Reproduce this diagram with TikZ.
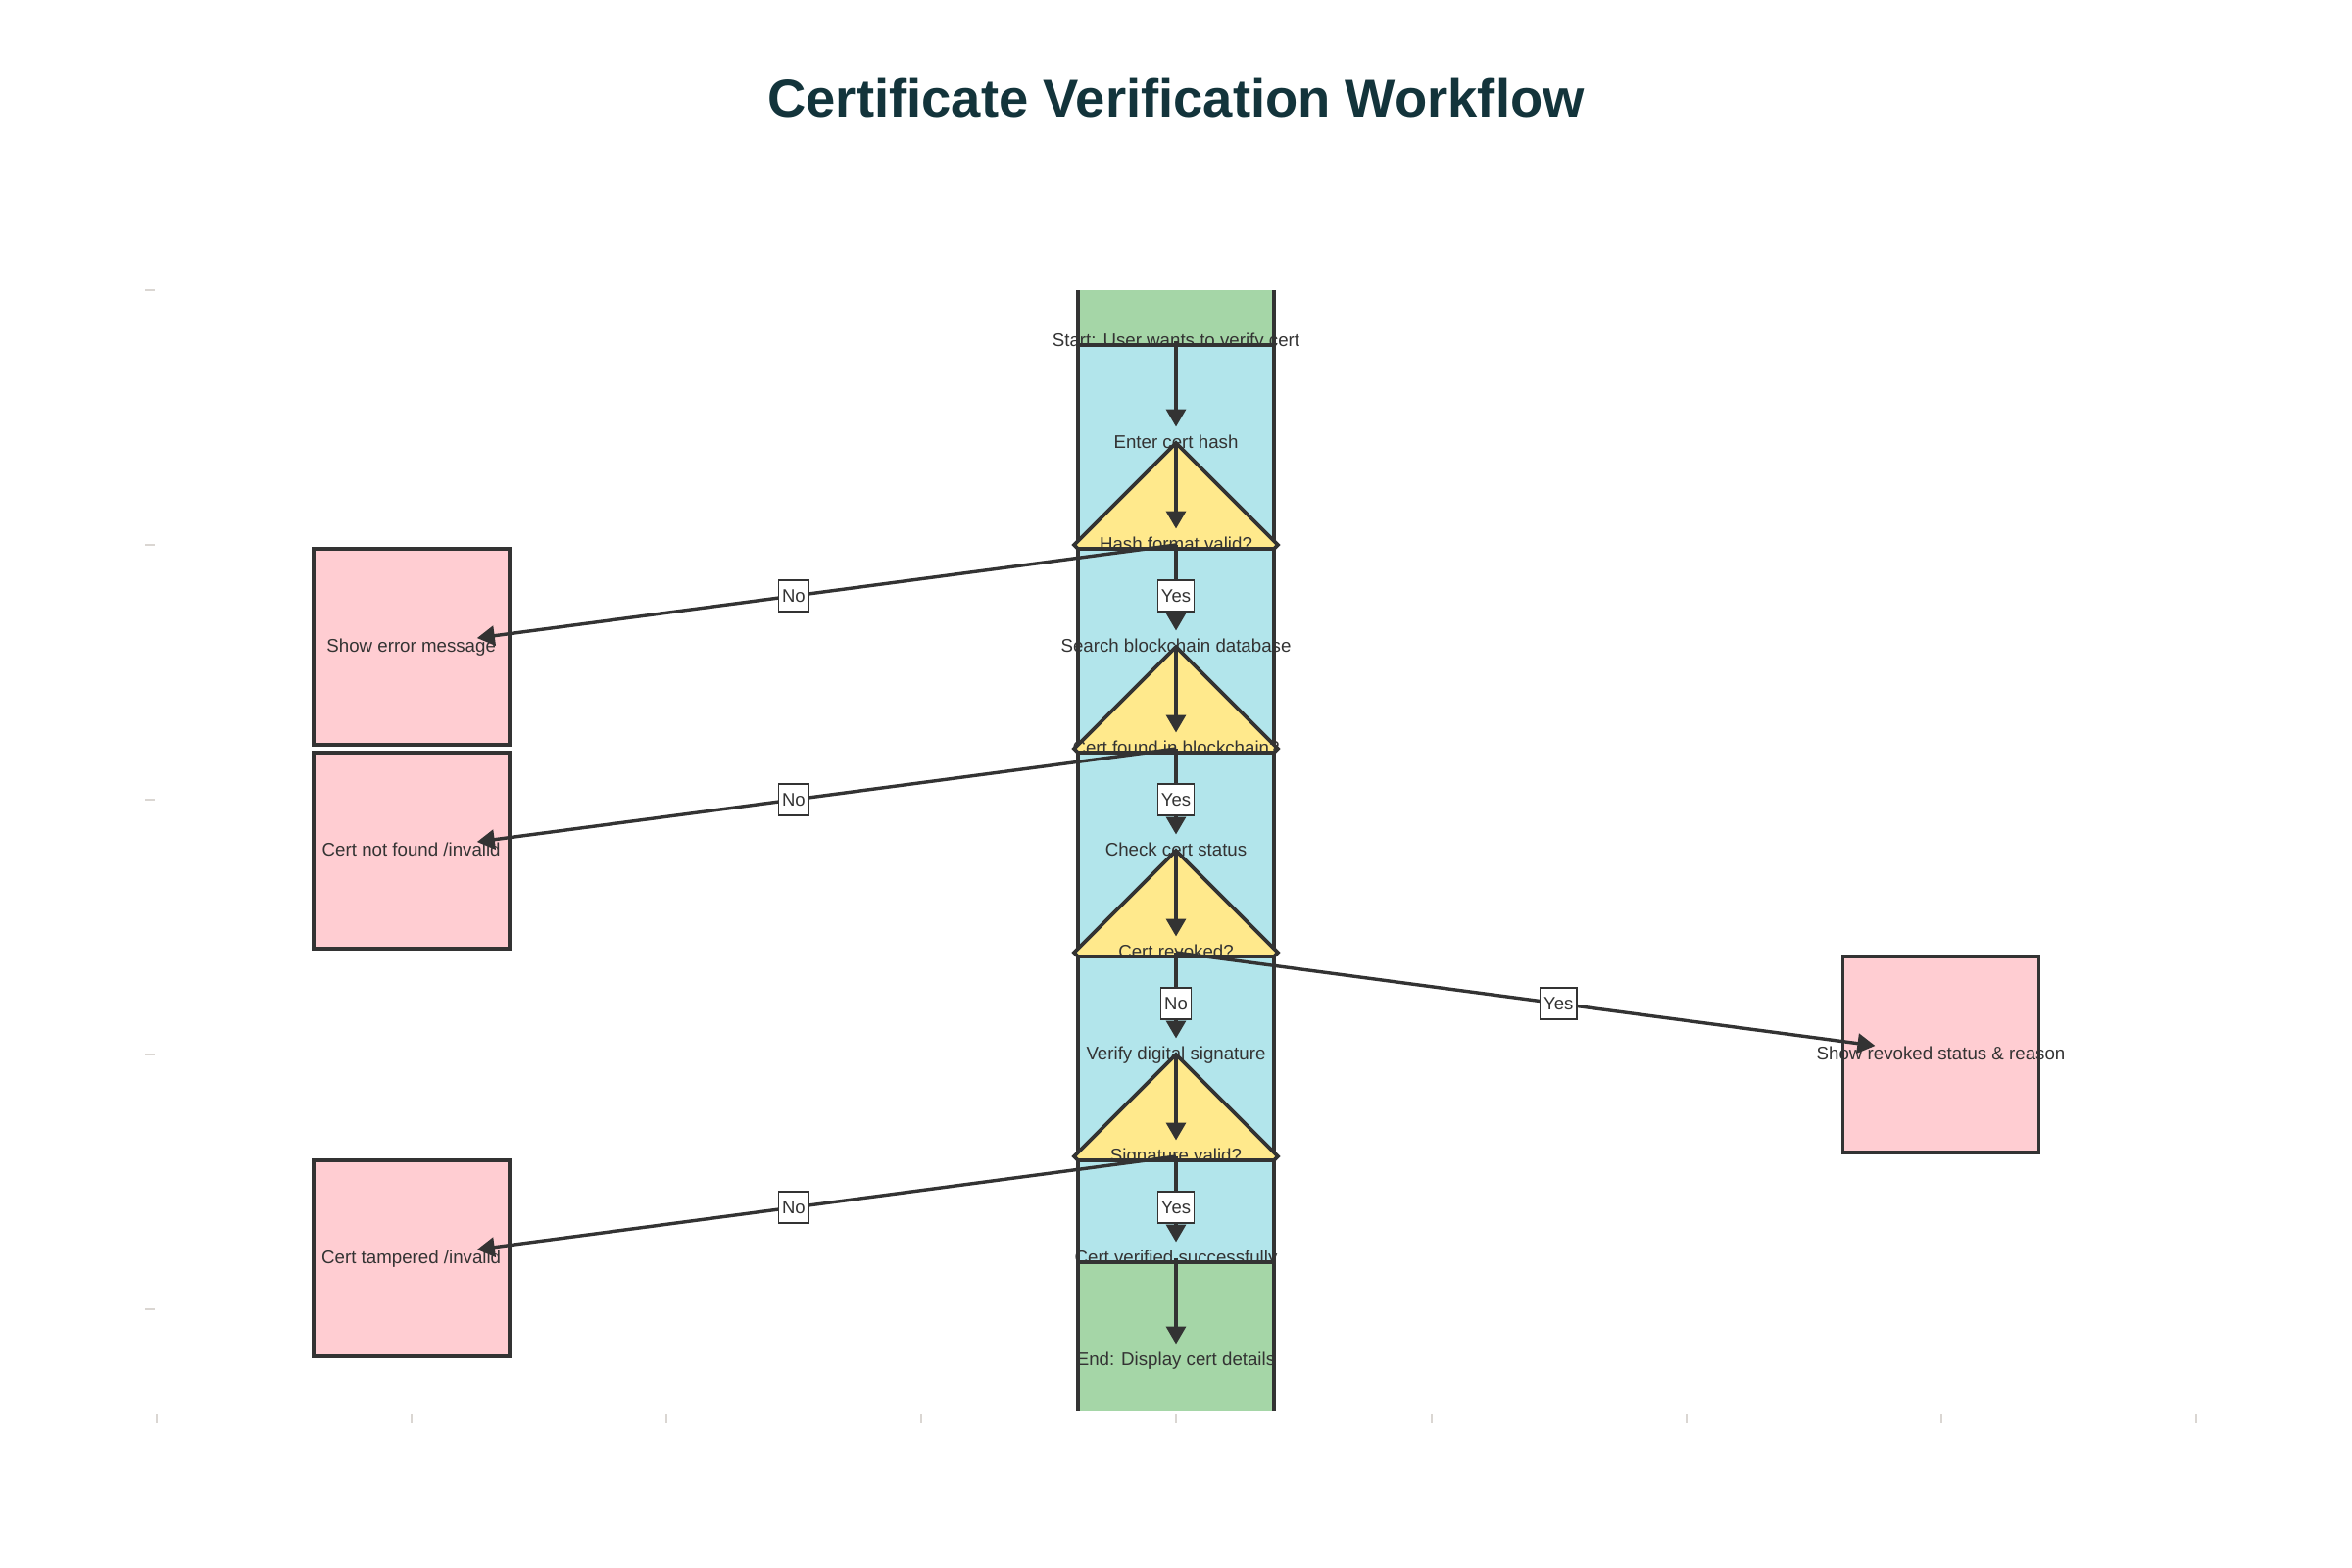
\documentclass[tikz,border=0pt]{standalone}
\usepackage{fontspec}
\setmainfont{Liberation Sans}
\usetikzlibrary{shapes.geometric,arrows.meta}
\definecolor{startgreen}{HTML}{A5D6A7}
\definecolor{procblue}{HTML}{B2E5EB}
\definecolor{decyellow}{HTML}{FFE98C}
\definecolor{errpink}{HTML}{FFCDD2}
\definecolor{ink}{HTML}{333333}
\definecolor{titleink}{HTML}{13343B}
\definecolor{tickgray}{HTML}{DAD6D2}
\begin{document}
\begin{tikzpicture}[x=1pt,y=-1pt,
  boxshape/.style={rectangle, draw=ink, line width=3.6pt, minimum width=200pt, minimum height=200pt, inner sep=0pt, outer sep=0pt},
  startend/.style={boxshape, fill=startgreen},
  proc/.style={boxshape, fill=procblue},
  err/.style={boxshape, fill=errpink},
  dec/.style={diamond, aspect=1, draw=ink, line width=3.6pt, fill=decyellow, minimum width=208pt, minimum height=208pt, inner sep=0pt, outer sep=0pt},
  txt/.style={font=\fontsize{18.7}{22}\selectfont, text=ink, inner sep=0pt, text height=13.5pt, text depth=3.5pt},
  flow/.style={draw=ink, line width=3.4pt, -{Triangle[length=18pt,width=20pt]}},
  vflow/.style={flow, shorten >=16.5pt},
  sflow/.style={flow, shorten >=67.7pt},
  lbl/.style={draw=ink, line width=1.3pt, fill=white, font=\fontsize{18.5}{22}\selectfont, text=ink, inner xsep=3.5pt, inner ysep=0pt, minimum height=32pt, text height=13.5pt, text depth=1.5pt},
  tickmark/.style={draw=tickgray, line width=2pt},
  titlestyle/.style={font=\fontsize{54.4}{60}\selectfont\bfseries, text=titleink, inner sep=0pt, anchor=base}
]
\fill[white] (0,0) rectangle (2400,1600);
\useasboundingbox (0,0) rectangle (2400,1600);

\node[titlestyle] (title) at (1200,120) {Certificate Verification Workflow};

% axis ticks
\foreach \i in {0,...,8} \draw[tickmark] ({159.5+260.2*\i},1443) -- ++(0,9);
\foreach \j in {0,...,4} \draw[tickmark] (148,{296+260*\j}) -- ++(10,0);

\begin{scope}
\clip (159,296) rectangle (2241,1439);
\node[startend] (n1) at (1200,348) {};
\node[txt] (t1) at (n1.center) {Start: User wants to verify cert};
\node[proc] (n2) at (1200,452) {};
\node[txt] (t2) at (n2.center) {Enter cert hash};
\node[dec] (n3) at (1200,556) {};
\node[txt] (t3) at (n3.center) {Hash format valid?};
\node[proc] (n4) at (1200,660) {};
\node[txt] (t4) at (n4.center) {Search blockchain database};
\node[dec] (n5) at (1200,764) {};
\node[txt] (t5) at (n5.center) {Cert found in blockchain?};
\node[proc] (n6) at (1200,868) {};
\node[txt] (t6) at (n6.center) {Check cert status};
\node[dec] (n7) at (1200,972) {};
\node[txt] (t7) at (n7.center) {Cert revoked?};
\node[proc] (n8) at (1200,1076) {};
\node[txt] (t8) at (n8.center) {Verify digital signature};
\node[dec] (n9) at (1200,1180) {};
\node[txt] (t9) at (n9.center) {Signature valid?};
\node[proc] (n10) at (1200,1284) {};
\node[txt] (t10) at (n10.center) {Cert verified successfully};
\node[startend] (n11) at (1200,1388) {};
\node[txt] (t11) at (n11.center) {End: Display cert details};

\node[err] (e1) at (419.7,660) {};
\node[txt] (s1) at (e1.center) {Show error message};
\node[err] (e2) at (419.7,868) {};
\node[txt] (s2) at (e2.center) {Cert not found /invalid};
\node[err] (e3) at (1980.5,1076) {};
\node[txt] (s3) at (e3.center) {Show revoked status \& reason};
\node[err] (e4) at (419.7,1284) {};
\node[txt] (s4) at (e4.center) {Cert tampered /invalid};
\end{scope}

% main flow
\draw[vflow] (n1.center) -- (n2.center);
\draw[vflow] (n2.center) -- (n3.center);
\draw[vflow] (n3.center) -- node[lbl, pos=0.5] (l1) {Yes} (n4.center);
\draw[vflow] (n4.center) -- (n5.center);
\draw[vflow] (n5.center) -- node[lbl, pos=0.5] (l2) {Yes} (n6.center);
\draw[vflow] (n6.center) -- (n7.center);
\draw[vflow] (n7.center) -- node[lbl, pos=0.5] (l3) {No} (n8.center);
\draw[vflow] (n8.center) -- (n9.center);
\draw[vflow] (n9.center) -- node[lbl, pos=0.5] (l4) {Yes} (n10.center);
\draw[vflow] (n10.center) -- (n11.center);

% side branches
\draw[sflow] (n3.center) -- node[lbl, pos=0.5] (l5) {No} (e1.center);
\draw[sflow] (n5.center) -- node[lbl, pos=0.5] (l6) {No} (e2.center);
\draw[sflow] (n7.center) -- node[lbl, pos=0.5] (l7) {Yes} (e3.center);
\draw[sflow] (n9.center) -- node[lbl, pos=0.5] (l8) {No} (e4.center);
\end{tikzpicture}
\end{document}
